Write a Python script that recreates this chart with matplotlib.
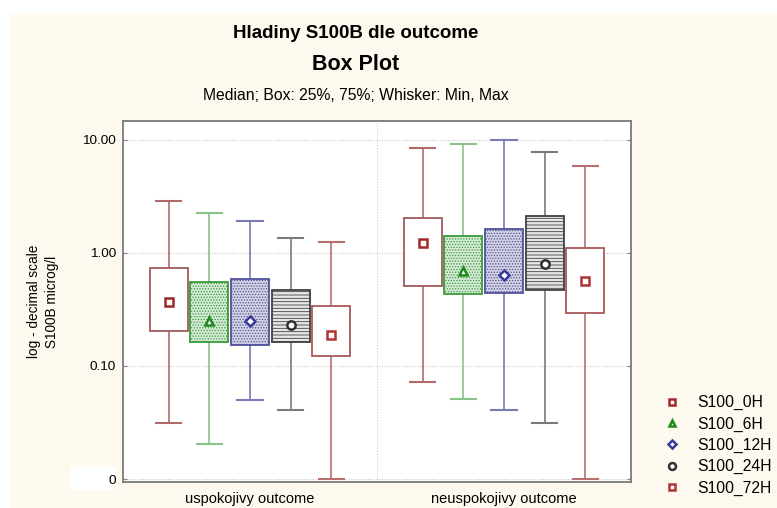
import matplotlib
matplotlib.use("Agg")
import matplotlib.pyplot as plt
from matplotlib.patches import Rectangle
from matplotlib.lines import Line2D
from matplotlib.ticker import NullLocator

plt.rcParams["font.family"] = ["Liberation Sans", "DejaVu Sans"]
plt.rcParams["hatch.linewidth"] = 0.6

# --- data (S100B, microg/l) ---
groups = ["uspokojivy outcome", "neuspokojivy outcome"]
series = ["S100_0H", "S100_6H", "S100_12H", "S100_24H", "S100_72H"]

# values per series: [uspokojivy, neuspokojivy]
mins = {
    "S100_0H": [0.031, 0.072],
    "S100_6H": [0.0205, 0.051],
    "S100_12H": [0.050, 0.041],
    "S100_24H": [0.041, 0.031],
    "S100_72H": [0.0, 0.0],
}
q1s = {
    "S100_0H": [0.204, 0.51],
    "S100_6H": [0.163, 0.434],
    "S100_12H": [0.153, 0.443],
    "S100_24H": [0.163, 0.471],
    "S100_72H": [0.123, 0.294],
}
medians = {
    "S100_0H": [0.368, 1.23],
    "S100_6H": [0.25, 0.693],
    "S100_12H": [0.25, 0.639],
    "S100_24H": [0.231, 0.80],
    "S100_72H": [0.188, 0.565],
}
q3s = {
    "S100_0H": [0.736, 2.04],
    "S100_6H": [0.554, 1.41],
    "S100_12H": [0.589, 1.63],
    "S100_24H": [0.471, 2.13],
    "S100_72H": [0.34, 1.11],
}
maxs = {
    "S100_0H": [2.88, 8.5],
    "S100_6H": [2.26, 9.2],
    "S100_12H": [1.92, 10.0],
    "S100_24H": [1.36, 7.83],
    "S100_72H": [1.25, 5.89],
}

ytick_vals = [0.01, 0.1, 1, 10]
ytick_labels = ["0", "0.10", "1.00", "10.00"]
ZERO_AT = 0.01  # zero is drawn at the bottom tick of the log axis

# --- styles ---
styles = {
    "S100_0H": dict(edge="#a35a5a", whisk="#b06a6a", face="white", hatch=None,
                    marker="s", mcol="#a02828"),
    "S100_6H": dict(edge="#3c9a3c", whisk="#88c488", face="#d4ead4", hatch="......",
                    marker="^", mcol="#1e8a1e"),
    "S100_12H": dict(edge="#50509c", whisk="#7a7ab4", face="#d2d2e2", hatch="......",
                     marker="D", mcol="#3a3a9a"),
    "S100_24H": dict(edge="#404040", whisk="#7a7a7a", face="#e6e6e6", hatch="-----",
                     marker="o", mcol="#303030"),
    "S100_72H": dict(edge="#a85858", whisk="#b87070", face="white", hatch=None,
                     marker="s", mcol="#b03434"),
}

offsets = [-0.32, -0.16, 0.0, 0.16, 0.32]

fig = plt.figure(figsize=(7.77, 5.08), dpi=100)
fig.patch.set_facecolor("white")
W, H = 777, 508
fig.patches.append(Rectangle((10 / W, 0), 1, (H - 13) / H, transform=fig.transFigure,
                             facecolor="#fdf9ee", edgecolor="none", zorder=-10))
fig.patches.append(Rectangle((70 / W, (H - 490) / H), 45 / W, 23 / H, transform=fig.transFigure,
                             facecolor="white", edgecolor="none", zorder=-5))

ax = fig.add_axes([123 / W, 26 / H, 508 / W, 361 / H])
ax.set_facecolor("white")
ax.set_yscale("log")

for i, name in enumerate(series):
    st = styles[name]
    stats = []
    for g in range(len(groups)):
        stats.append(dict(
            whislo=max(mins[name][g], ZERO_AT), q1=q1s[name][g], med=medians[name][g],
            q3=q3s[name][g], whishi=maxs[name][g], fliers=[]))
    pos = [g + offsets[i] for g in range(len(groups))]
    bp = ax.bxp(stats, positions=pos, widths=0.15, capwidths=0.1, patch_artist=True,
                showfliers=False,
                boxprops=dict(facecolor=st["face"], edgecolor=st["edge"], linewidth=1.3),
                whiskerprops=dict(color=st["whisk"], linewidth=1.2),
                capprops=dict(color=st["whisk"], linewidth=1.5),
                medianprops=dict(linestyle="none"))
    for b in bp["boxes"]:
        if st["hatch"]:
            b.set_hatch(st["hatch"])
        b.set_zorder(3)
    ax.plot(pos, medians[name], linestyle="none", marker=st["marker"],
            markersize=6 if st["marker"] != "D" else 5, markerfacecolor="white",
            markeredgecolor=st["mcol"], markeredgewidth=1.8, zorder=5)

ax.set_xlim(-0.5, 1.5)
ax.set_ylim(0.00941, 14.7)
ax.set_yticks(ytick_vals)
ax.set_yticklabels(ytick_labels)
ax.yaxis.set_minor_locator(NullLocator())
ax.tick_params(axis="y", which="both", direction="in", length=3, right=True,
               labelsize=9.7, pad=5, color="#808080")
ax.set_xticks(range(len(groups)))
ax.set_xticklabels(groups)
ax.tick_params(axis="x", length=0, labelsize=10.5, pad=7)

for yv in ytick_vals:
    ax.axhline(yv, color="#c8c8c8", linestyle=(0, (1, 1.5)), linewidth=0.8, zorder=0)
ax.axvline(0.5, color="#d0d0d0", linestyle=(0, (1, 1.5)), linewidth=0.8, zorder=0)

for sp in ax.spines.values():
    sp.set_color("#7a7a7a")
    sp.set_linewidth(1.3)

ax.set_ylabel("log - decimal scale\nS100B microg/l", fontsize=9.8, labelpad=17,
              linespacing=1.3)

# titles
fig.text(356 / W, 1 - 33 / H, "Hladiny S100B dle outcome", ha="center", va="center",
         fontsize=13.5, fontweight="bold")
fig.text(356 / W, 1 - 65 / H, "Box Plot", ha="center", va="center",
         fontsize=15.5, fontweight="bold")
fig.text(356 / W, 1 - 95 / H, "Median; Box: 25%, 75%; Whisker: Min, Max", ha="center",
         va="center", fontsize=11.3)

handles = [Line2D([], [], linestyle="none", marker=styles[n]["marker"],
                  markersize=5 if styles[n]["marker"] != "D" else 4,
                  markerfacecolor="white", markeredgecolor=styles[n]["mcol"],
                  markeredgewidth=1.8) for n in series]
fig.legend(handles, series, loc="upper left", bbox_to_anchor=(664 / W, 1 - 395 / H),
           frameon=False, fontsize=11.3, handlelength=1.0, handletextpad=1.1,
           labelspacing=0.4, borderaxespad=0, borderpad=0)

fig.savefig("out.png", dpi=100, facecolor=fig.get_facecolor())
